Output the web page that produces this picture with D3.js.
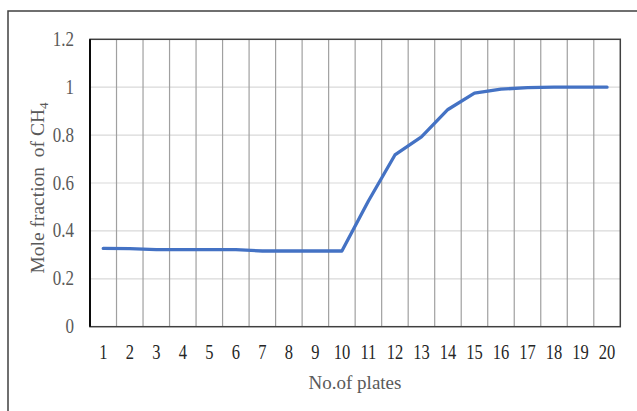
<!DOCTYPE html>
<html>
<head>
<meta charset="utf-8">
<script src="https://cdn.jsdelivr.net/npm/d3@7"></script>
<style>
  html, body { margin: 0; padding: 0; background: #fff; }
  svg { display: block; }
</style>
</head>
<body>
<svg id="chart" width="637" height="411"></svg>
<script>
const plates = [1,2,3,4,5,6,7,8,9,10,11,12,13,14,15,16,17,18,19,20];
const moleFractionCH4 = [0.327,0.326,0.322,0.322,0.322,0.322,0.316,0.316,0.316,0.316,
                         0.525,0.717,0.793,0.907,0.975,0.992,0.998,1.0,1.0,1.0];
const yTicks = [0, 0.2, 0.4, 0.6, 0.8, 1, 1.2];
const yTickLabels = ["0", "0.2", "0.4", "0.6", "0.8", "1", "1.2"];
const xTitle = "No.of plates";
const yTitle = "Mole fraction\u00A0\u00A0of CH";

const svg = d3.select("#chart");
const L = 90, R = 620.3, T = 39.3, B = 326.7;

// outer frame (extends beyond the picture on right and bottom)
svg.append("rect").attr("x", 8).attr("y", 11).attr("width", 700).attr("height", 500)
  .attr("fill", "none").attr("stroke", "#404040").attr("stroke-width", 1.5);

const x = d3.scaleBand().domain(plates).range([L, R]).padding(0);
const y = d3.scaleLinear().domain([0, 1.2]).range([B, T]);

// horizontal gridlines
svg.append("g").selectAll("line").data(yTicks.filter(d => d > 0 && d < 1.2)).join("line")
  .attr("x1", L).attr("x2", R).attr("y1", d => y(d)).attr("y2", d => y(d))
  .attr("stroke", "#d9d9d9").attr("stroke-width", 1.2);

// vertical gridlines at category boundaries
svg.append("g").selectAll("line").data(plates.slice(1)).join("line")
  .attr("x1", d => x(d)).attr("x2", d => x(d)).attr("y1", T).attr("y2", B)
  .attr("stroke", "#a0a0a0").attr("stroke-width", 1.2);

// plot border
svg.append("rect").attr("x", L).attr("y", T).attr("width", R - L).attr("height", B - T)
  .attr("fill", "none").attr("stroke", "#404040").attr("stroke-width", 1.5);
svg.append("line").attr("x1", L).attr("x2", L).attr("y1", T).attr("y2", B)
  .attr("stroke", "#000").attr("stroke-width", 1.8);

// line
const line = d3.line().x((d, i) => x(plates[i]) + x.bandwidth() / 2).y(d => y(d));
svg.append("path").datum(moleFractionCH4).attr("d", line)
  .attr("fill", "none").attr("stroke", "#4472C4").attr("stroke-width", 3.3)
  .attr("stroke-linejoin", "round").attr("stroke-linecap", "round");

// y tick labels
svg.append("g").selectAll("text").data(yTicks).join("text")
  .attr("transform", d => `translate(74,${y(d) + 6.5}) scale(1,1.25)`)
  .attr("text-anchor", "end")
  .attr("font-family", "Liberation Serif, Times New Roman, serif")
  .attr("font-size", 17).attr("fill", "#595959")
  .text((d, i) => yTickLabels[i]);

// x tick labels
svg.append("g").selectAll("text").data(plates).join("text")
  .attr("transform", d => `translate(${x(d) + x.bandwidth() / 2},359.3) scale(1,1.22)`)
  .attr("text-anchor", "middle")
  .attr("font-family", "Liberation Serif, Times New Roman, serif")
  .attr("font-size", 16.5).attr("fill", "#262626")
  .text(d => d);

// x title
svg.append("text").attr("x", 355).attr("y", 389)
  .attr("text-anchor", "middle")
  .attr("font-family", "Liberation Serif, Times New Roman, serif")
  .attr("font-size", 19).attr("fill", "#595959")
  .text(xTitle);

// y title
const yt = svg.append("text")
  .attr("transform", "translate(44,188) rotate(-90)")
  .attr("text-anchor", "middle")
  .attr("font-family", "Liberation Serif, Times New Roman, serif")
  .attr("font-size", 19.5).attr("fill", "#595959");
yt.append("tspan").text(yTitle);
yt.append("tspan").attr("dy", 4).attr("font-size", 13).text("4");
</script>
</body>
</html>
